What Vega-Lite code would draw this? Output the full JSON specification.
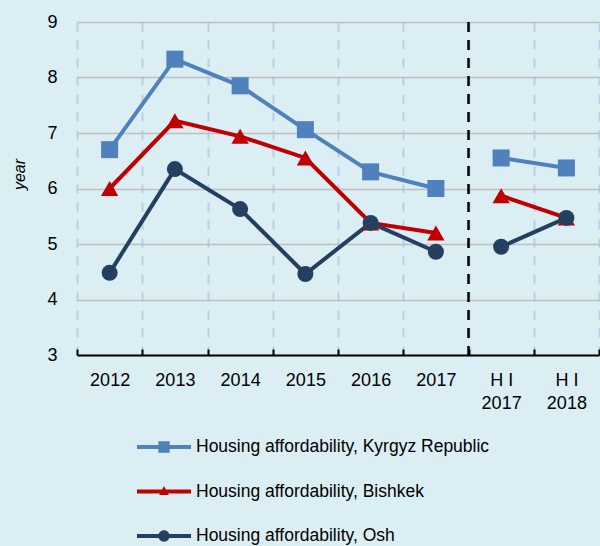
{
  "$schema": "https://vega.github.io/schema/vega-lite/v6.json",
  "width": 522,
  "height": 333,
  "autosize": "none",
  "padding": {"left": 77, "top": 22, "right": 1, "bottom": 191},
  "background": "#dbeef4",
  "config": {
    "view": {"stroke": null},
    "font": "Liberation Sans, Arial"
  },
  "datasets": {
    "d": [
      {"cat": "2012", "series": "Housing affordability, Kyrgyz Republic", "value": 6.7, "part": "A"},
      {"cat": "2013", "series": "Housing affordability, Kyrgyz Republic", "value": 8.33, "part": "A"},
      {"cat": "2014", "series": "Housing affordability, Kyrgyz Republic", "value": 7.85, "part": "A"},
      {"cat": "2015", "series": "Housing affordability, Kyrgyz Republic", "value": 7.06, "part": "A"},
      {"cat": "2016", "series": "Housing affordability, Kyrgyz Republic", "value": 6.3, "part": "A"},
      {"cat": "2017", "series": "Housing affordability, Kyrgyz Republic", "value": 6.0, "part": "A"},
      {"cat": "H I 2017", "series": "Housing affordability, Kyrgyz Republic", "value": 6.55, "part": "B"},
      {"cat": "H I 2018", "series": "Housing affordability, Kyrgyz Republic", "value": 6.37, "part": "B"},
      {"cat": "2012", "series": "Housing affordability, Bishkek", "value": 6.0, "part": "A"},
      {"cat": "2013", "series": "Housing affordability, Bishkek", "value": 7.22, "part": "A"},
      {"cat": "2014", "series": "Housing affordability, Bishkek", "value": 6.94, "part": "A"},
      {"cat": "2015", "series": "Housing affordability, Bishkek", "value": 6.55, "part": "A"},
      {"cat": "2016", "series": "Housing affordability, Bishkek", "value": 5.38, "part": "A"},
      {"cat": "2017", "series": "Housing affordability, Bishkek", "value": 5.2, "part": "A"},
      {"cat": "H I 2017", "series": "Housing affordability, Bishkek", "value": 5.87, "part": "B"},
      {"cat": "H I 2018", "series": "Housing affordability, Bishkek", "value": 5.47, "part": "B"},
      {"cat": "2012", "series": "Housing affordability, Osh", "value": 4.48, "part": "A"},
      {"cat": "2013", "series": "Housing affordability, Osh", "value": 6.35, "part": "A"},
      {"cat": "2014", "series": "Housing affordability, Osh", "value": 5.63, "part": "A"},
      {"cat": "2015", "series": "Housing affordability, Osh", "value": 4.46, "part": "A"},
      {"cat": "2016", "series": "Housing affordability, Osh", "value": 5.38, "part": "A"},
      {"cat": "2017", "series": "Housing affordability, Osh", "value": 4.86, "part": "A"},
      {"cat": "H I 2017", "series": "Housing affordability, Osh", "value": 4.95, "part": "B"},
      {"cat": "H I 2018", "series": "Housing affordability, Osh", "value": 5.47, "part": "B"}
    ],
    "sep": [{"cat": "H I 2017"}]
  },
  "layer": [
    {
      "data": {"name": "d"},
      "mark": {"type": "line", "strokeWidth": 4},
      "encoding": {
        "x": {
          "field": "cat", "type": "nominal",
          "sort": ["2012", "2013", "2014", "2015", "2016", "2017", "H I 2017", "H I 2018"],
          "scale": {"type": "band", "paddingInner": 0, "paddingOuter": 0},
          "axis": {
            "title": null, "labelAngle": 0, "tickBand": "extent",
            "grid": true, "gridColor": "#b9cde5", "gridDash": [9, 9], "gridWidth": 2,
            "domainColor": "#000", "domainWidth": 2,
            "tickColor": "#000", "tickWidth": 2, "tickSize": -6,
            "labelFontSize": 18, "labelColor": "#000", "labelPadding": 22, "labelLineHeight": 23,
            "labelExpr": "datum.label == 'H I 2017' ? ['H I', '2017'] : datum.label == 'H I 2018' ? ['H I', '2018'] : datum.label"
          }
        },
        "y": {
          "field": "value", "type": "quantitative",
          "scale": {"domain": [3, 9], "nice": false, "zero": false},
          "axis": {
            "values": [3, 4, 5, 6, 7, 8, 9], "format": "d", "title": "year",
            "titleFontStyle": "italic", "titleFontWeight": "normal", "titleFontSize": 16, "titleColor": "#000",
            "titleX": -58, "titleY": 152, "titleAngle": -90, "titleAlign": "center", "titleBaseline": "middle",
            "domain": false, "ticks": false, "labelPadding": 20, "labelFontSize": 18, "labelColor": "#000",
            "gridColor": "#bfbfbf", "gridWidth": 1.5
          }
        },
        "color": {
          "field": "series", "type": "nominal",
          "scale": {
            "domain": ["Housing affordability, Kyrgyz Republic", "Housing affordability, Bishkek", "Housing affordability, Osh"],
            "range": ["#4f81bd", "#c00000", "#243f60"]
          },
          "legend": {
            "orient": "none", "legendX": 73.5, "legendY": 411.5, "direction": "vertical",
            "title": null, "padding": 0, "labelFontSize": 17.5, "labelColor": "#000", "labelLimit": 500,
            "symbolSize": 729, "symbolStrokeWidth": 0, "symbolOpacity": 1, "labelOffset": 18.5, "rowPadding": 22.5,
            "encode": {
              "symbols": {
                "update": {
                  "shape": {"signal": "datum.value == 'Housing affordability, Kyrgyz Republic' ? 'M-2,-0.14H2V0.14H-2Z M-0.42,-0.42H0.42V0.42H-0.42Z' : datum.value == 'Housing affordability, Bishkek' ? 'M-2,-0.14H2V0.14H-2Z M0,-0.4L0.36,0.26L-0.36,0.26Z' : 'M-2,-0.14H2V0.14H-2Z M-0.42,0A0.42,0.42 0 1,1 0.42,0A0.42,0.42 0 1,1 -0.42,0Z'"},
                  "fill": {"scale": "color", "field": "value"},
                  "stroke": {"value": "transparent"},
                  "strokeWidth": {"value": 0},
                  "opacity": {"value": 1}
                }
              }
            }
          }
        },
        "detail": {"field": "part"}
      }
    },
    {
      "data": {"name": "d"},
      "transform": [{"filter": "datum.series == 'Housing affordability, Kyrgyz Republic'"}],
      "mark": {"type": "point", "filled": true, "opacity": 1, "shape": "square", "size": 289},
      "encoding": {
        "x": {"field": "cat", "type": "nominal", "sort": ["2012", "2013", "2014", "2015", "2016", "2017", "H I 2017", "H I 2018"], "scale": {"type": "band", "paddingInner": 0, "paddingOuter": 0}},
        "y": {"field": "value", "type": "quantitative", "scale": {"domain": [3, 9], "nice": false, "zero": false}},
        "color": {"field": "series", "type": "nominal"}
      }
    },
    {
      "data": {"name": "d"},
      "transform": [{"filter": "datum.series == 'Housing affordability, Bishkek'"}],
      "mark": {"type": "point", "filled": true, "opacity": 1, "shape": "triangle-up", "size": 300},
      "encoding": {
        "x": {"field": "cat", "type": "nominal", "sort": ["2012", "2013", "2014", "2015", "2016", "2017", "H I 2017", "H I 2018"], "scale": {"type": "band", "paddingInner": 0, "paddingOuter": 0}},
        "y": {"field": "value", "type": "quantitative", "scale": {"domain": [3, 9], "nice": false, "zero": false}},
        "color": {"field": "series", "type": "nominal"}
      }
    },
    {
      "data": {"name": "d"},
      "transform": [{"filter": "datum.series == 'Housing affordability, Osh'"}],
      "mark": {"type": "point", "filled": true, "opacity": 1, "shape": "circle", "size": 256},
      "encoding": {
        "x": {"field": "cat", "type": "nominal", "sort": ["2012", "2013", "2014", "2015", "2016", "2017", "H I 2017", "H I 2018"], "scale": {"type": "band", "paddingInner": 0, "paddingOuter": 0}},
        "y": {"field": "value", "type": "quantitative", "scale": {"domain": [3, 9], "nice": false, "zero": false}},
        "color": {"field": "series", "type": "nominal"}
      }
    },
    {
      "data": {"name": "sep"},
      "mark": {"type": "rule", "color": "#000", "strokeWidth": 2.5, "strokeDash": [10, 8]},
      "encoding": {
        "x": {
          "field": "cat", "type": "nominal", "bandPosition": 0,
          "sort": ["2012", "2013", "2014", "2015", "2016", "2017", "H I 2017", "H I 2018"],
          "scale": {"type": "band", "paddingInner": 0, "paddingOuter": 0}
        }
      }
    }
  ]
}
